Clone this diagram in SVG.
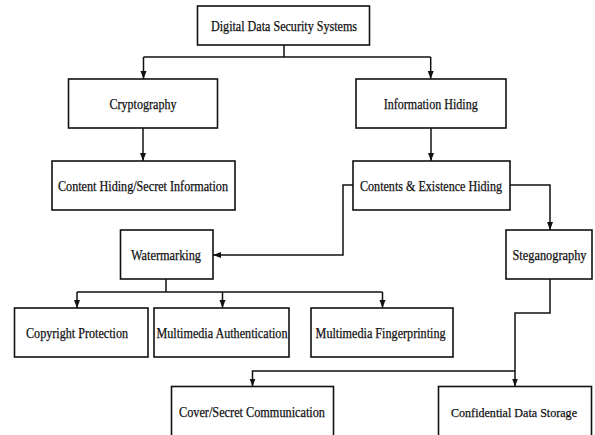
<svg xmlns="http://www.w3.org/2000/svg" width="595" height="435" viewBox="0 0 595 435">
<style>
.box{fill:#fff;stroke:#111;stroke-width:1.6}
.lbl{font-family:"Liberation Serif","Times New Roman",serif;font-size:14px;fill:#111;stroke:#111;stroke-width:0.25;text-anchor:middle}
.sm{font-size:13px}
.con{fill:none;stroke:#111;stroke-width:1.5}
</style>
<defs>
<marker id="ah" markerUnits="userSpaceOnUse" markerWidth="8" markerHeight="8" viewBox="0 0 8 8" refX="8" refY="4" orient="auto">
<path d="M0,1 L8,4 L0,7 Z" fill="#111"/>
</marker>
</defs>
<rect width="595" height="435" fill="#fff"/>
<g id="connectors">
<path class="con" d="M284,45 V57 M143.5,57 H430.7"/>
<path class="con" d="M143.5,57 V79" marker-end="url(#ah)"/>
<path class="con" d="M430.7,57 V79" marker-end="url(#ah)"/>
<path class="con" d="M143,128 V161" marker-end="url(#ah)"/>
<path class="con" d="M431,128 V161" marker-end="url(#ah)"/>
<path class="con" d="M510,185 H550 V230" marker-end="url(#ah)"/>
<path class="con" d="M353,185 H343 V255 H213" marker-end="url(#ah)"/>
<path class="con" d="M166,279 V292 M77,292 H382.5"/>
<path class="con" d="M77,292 V308" marker-end="url(#ah)"/>
<path class="con" d="M222.5,292 V308" marker-end="url(#ah)"/>
<path class="con" d="M382.5,292 V308" marker-end="url(#ah)"/>
<path class="con" d="M550,279 V313 H515 V386.5" marker-end="url(#ah)"/>
<path class="con" d="M515,371 H252.5 V386.5" marker-end="url(#ah)"/>
</g>
<g id="n-digital"><rect class="box" x="197.5" y="6" width="172" height="39"/><text class="lbl" x="284" y="30.5" textLength="146" lengthAdjust="spacingAndGlyphs">Digital Data Security Systems</text></g>
<g id="n-crypto"><rect class="box" x="68.5" y="79" width="149" height="49"/><text class="lbl" x="143" y="108.5" textLength="67" lengthAdjust="spacingAndGlyphs">Cryptography</text></g>
<g id="n-info"><rect class="box" x="356" y="79" width="150" height="49"/><text class="lbl" x="430.7" y="108.5" textLength="94" lengthAdjust="spacingAndGlyphs">Information Hiding</text></g>
<g id="n-content"><rect class="box" x="52" y="161" width="183" height="49"/><text class="lbl" x="143" y="190.5" textLength="170" lengthAdjust="spacingAndGlyphs">Content Hiding/Secret Information</text></g>
<g id="n-ceh"><rect class="box" x="353" y="161" width="157" height="49"/><text class="lbl" x="431" y="190.5" textLength="142" lengthAdjust="spacingAndGlyphs">Contents &amp; Existence Hiding</text></g>
<g id="n-water"><rect class="box" x="120.5" y="230" width="92.5" height="49"/><text class="lbl" x="166" y="259.5" textLength="70" lengthAdjust="spacingAndGlyphs">Watermarking</text></g>
<g id="n-steg"><rect class="box" x="506" y="230" width="86" height="49"/><text class="lbl" x="549.5" y="259.5" textLength="74" lengthAdjust="spacingAndGlyphs">Steganography</text></g>
<g id="n-copy"><rect class="box" x="14.5" y="308" width="133.5" height="49"/><text class="lbl" x="77" y="337.5" textLength="102" lengthAdjust="spacingAndGlyphs">Copyright Protection</text></g>
<g id="n-auth"><rect class="box" x="154" y="308" width="135" height="49"/><text class="lbl" x="222" y="337.5" textLength="131" lengthAdjust="spacingAndGlyphs">Multimedia Authentication</text></g>
<g id="n-finger"><rect class="box" x="311" y="308" width="142" height="49"/><text class="lbl" x="380.6" y="337.5" textLength="130" lengthAdjust="spacingAndGlyphs">Multimedia Fingerprinting</text></g>
<g id="n-cover"><rect class="box" x="171.5" y="386.5" width="162" height="52"/><text class="lbl" x="252" y="416.5" textLength="146" lengthAdjust="spacingAndGlyphs">Cover/Secret Communication</text></g>
<g id="n-conf"><rect class="box" x="438.5" y="386.5" width="153" height="52"/><text class="lbl sm" x="514" y="416.5" textLength="126" lengthAdjust="spacingAndGlyphs">Confidential Data Storage</text></g>
</svg>
